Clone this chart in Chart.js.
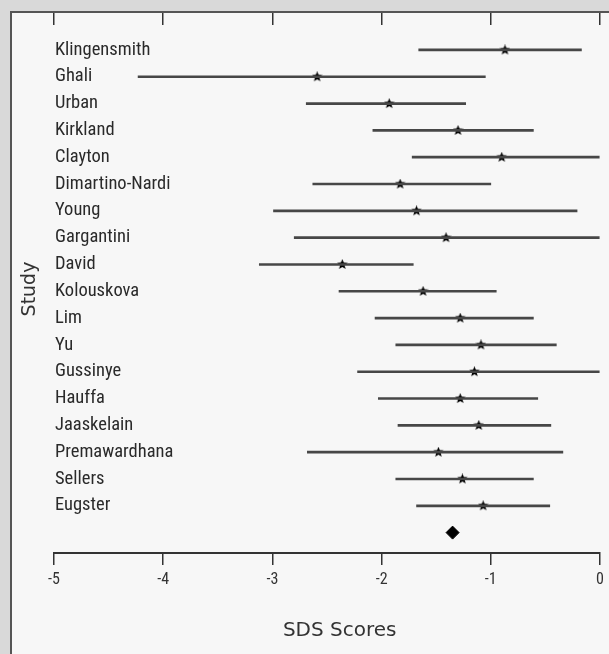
<!DOCTYPE html>
<html>
<head>
<meta charset="utf-8">
<script src="https://cdn.jsdelivr.net/npm/chart.js@4"></script>
<style>
  html, body { margin: 0; padding: 0; background: #d9d9d9; }
  #frame {
    position: absolute; left: 10px; top: 11px; width: 599px; height: 643px;
    border-left: 2px solid #555; border-top: 2px solid #555;
    background: #f7f7f7; box-sizing: border-box;
  }
  #chart { position: absolute; left: 0; top: 0; }
</style>
</head>
<body>
<div id="frame"></div>
<canvas id="chart" width="609" height="654"></canvas>
<script>
// studies, top to bottom
const studies = ["Klingensmith", "Ghali", "Urban", "Kirkland", "Clayton", "Dimartino-Nardi", "Young",
  "Gargantini", "David", "Kolouskova", "Lim", "Yu", "Gussinye", "Hauffa", "Jaaskelain",
  "Premawardhana", "Sellers", "Eugster"];
const means = [-0.87, -2.59, -1.93, -1.30, -0.90, -1.83, -1.68, -1.41, -2.36, -1.62, -1.28, -1.09,
  -1.15, -1.28, -1.11, -1.48, -1.26, -1.07];
const lower = [-1.66, -4.23, -2.69, -2.08, -1.72, -2.63, -2.99, -2.80, -3.12, -2.39, -2.06, -1.87,
  -2.22, -2.03, -1.85, -2.68, -1.87, -1.68];
const upper = [-0.17, -1.05, -1.23, -0.61, 0, -1.00, -0.21, 0, -1.71, -0.95, -0.61, -0.40,
  0, -0.57, -0.45, -0.34, -0.61, -0.46];
const pooled = -1.35;
const xTicks = [-5, -4, -3, -2, -1, 0];

// filled star marker
function makeStar(size) {
    const c = document.createElement("canvas");
    c.width = size; c.height = size;
    const g = c.getContext("2d");
    const r1 = size / 2, r2 = size / 4.6;
    g.beginPath();
    for (let i = 0; i < 10; i++) {
        const r = i % 2 ? r2 : r1;
        const a = -Math.PI / 2 + i * Math.PI / 5;
        g.lineTo(size / 2 + r * Math.cos(a), size / 2 + r * Math.sin(a));
    }
    g.closePath();
    g.fillStyle = "#000";
    g.fill();
    return c;
}
const star = makeStar(11);

const axisCol = "#333";
const narrow = "'Roboto Condensed', 'Open Sans Condensed', sans-serif";
const wide = "'DejaVu Sans', sans-serif";

new Chart(document.getElementById("chart"), {
    data: {
        datasets: [
            {
                type: "bar",
                data: studies.map((s, i) => ({ x: [lower[i], upper[i]], y: i })),
                backgroundColor: "#474747",
                barThickness: 2,
                borderWidth: 0
            },
            {
                type: "scatter",
                data: studies.map((s, i) => ({ x: means[i], y: i })),
                pointStyle: star,
                pointRadius: 5
            },
            {
                type: "scatter",
                data: [{ x: pooled, y: studies.length }],
                pointStyle: "rectRot",
                pointRadius: 6.5,
                backgroundColor: "#000",
                borderColor: "#000"
            }
        ]
    },
    options: {
        indexAxis: "y",
        responsive: false,
        animation: false,
        devicePixelRatio: 1,
        layout: { padding: { top: 13, right: 9, left: 0, bottom: 0 } },
        plugins: { legend: { display: false }, tooltip: { enabled: false } },
        scales: {
            x: {
                type: "linear",
                position: "bottom",
                min: -5, max: 0,
                afterBuildTicks: s => { s.ticks = xTicks.map(v => ({ value: v })); },
                afterFit: s => { s.height = 101; },
                border: { display: true, color: axisCol, width: 2 },
                grid: { drawOnChartArea: false, tickLength: 12, color: axisCol, lineWidth: 1.5 },
                ticks: { color: "#333", padding: 5, font: { family: narrow, size: 16 } },
                title: {
                    display: true, text: "    SDS Scores", color: "#333",
                    font: { family: wide, size: 20 }, padding: { top: 0, bottom: 11 }
                }
            },
            x2: {
                type: "linear",
                position: "top",
                min: -5, max: 0,
                afterBuildTicks: s => { s.ticks = xTicks.map(v => ({ value: v })); },
                border: { display: false },
                grid: { drawOnChartArea: false, tickLength: 12, color: axisCol, lineWidth: 1.5 },
                ticks: { display: false }
            },
            y: {
                type: "linear",
                reverse: true,
                offset: false,
                min: -0.93, max: 18.76,
                afterBuildTicks: s => { s.ticks = studies.map((n, i) => ({ value: i })); },
                afterFit: s => { s.width = 54; },
                border: { display: false },
                grid: { display: false },
                ticks: {
                    mirror: true, padding: 1, color: "#2a2a2a",
                    font: { family: narrow, size: 18.5 },
                    callback: v => studies[v]
                },
                title: {
                    display: true, text: "Study", color: "#333",
                    font: { family: wide, size: 19 }, padding: { top: 19, bottom: 0 }
                }
            }
        }
    }
});
</script>
</body>
</html>
